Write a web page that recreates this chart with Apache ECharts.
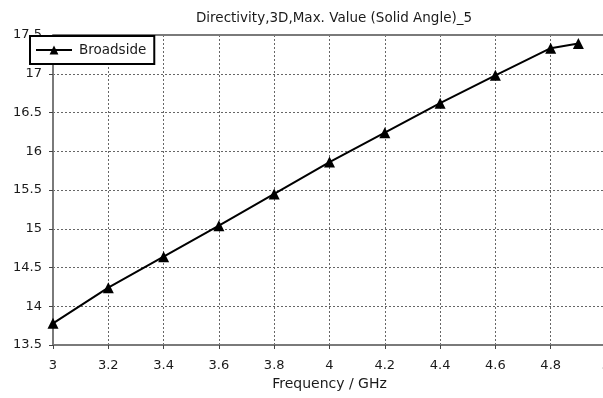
<!DOCTYPE html>
<html>
<head>
<meta charset="utf-8">
<script src="https://cdn.jsdelivr.net/npm/echarts@6/dist/echarts.min.js"></script>
<style>
  html, body { margin: 0; padding: 0; background: #fff; }
  #chart { width: 603px; height: 398px; }
</style>
</head>
<body>
<div id="chart"></div>
<script>
// Directivity vs frequency, broadside
const frequencies = [3.0, 3.2, 3.4, 3.6, 3.8, 4.0, 4.2, 4.4, 4.6, 4.8, 4.9];
const broadside = [13.78, 14.24, 14.64, 15.04, 15.45, 15.86, 16.24, 16.62, 16.98, 17.33, 17.39];
const xTicks = [3, 3.2, 3.4, 3.6, 3.8, 4, 4.2, 4.4, 4.6, 4.8, 5];
const yTicks = [13.5, 14, 14.5, 15, 15.5, 16, 16.5, 17, 17.5];

const FONT = 'DejaVu Sans';
const TEXT = '#1a1a1a';

const chart = echarts.init(document.getElementById('chart'), null, { renderer: 'canvas' });

chart.setOption({
  animation: false,
  backgroundColor: '#ffffff',
  title: {
    text: 'Directivity,3D,Max. Value (Solid Angle)_5',
    left: 329,
    textAlign: 'center',
    top: 6,
    textStyle: { fontFamily: FONT, fontSize: 13.5, fontWeight: 'normal', color: TEXT }
  },
  legend: {
    left: 30,
    top: 36,
    padding: [7, 8, 7, 5],
    itemWidth: 36,
    itemHeight: 11,
    itemGap: 0,
    borderColor: '#000',
    borderWidth: 2,
    backgroundColor: '#fff',
    textStyle: { fontFamily: FONT, fontSize: 13.5, color: TEXT, padding: [0, 0, 0, 2] },
    data: ['Broadside']
  },
  grid: { left: 53, right: -3, top: 35, bottom: 53, outerBoundsMode: 'none' },
  xAxis: {
    type: 'value',
    min: xTicks[0],
    max: xTicks[xTicks.length - 1],
    interval: 0.2,
    name: 'Frequency / GHz',
    nameLocation: 'middle',
    nameGap: 32,
    nameTextStyle: { fontFamily: FONT, fontSize: 14, color: TEXT },
    axisLine: { lineStyle: { color: '#7a7a7a', width: 2 } },
    axisTick: { show: true, length: 4, lineStyle: { color: '#444' } },
    axisLabel: {
      fontFamily: FONT, fontSize: 13, color: TEXT, margin: 14,
      formatter: v => String(+v.toFixed(1))
    },
    splitLine: { show: true, lineStyle: { color: '#666', type: [2, 2], width: 1 } }
  },
  yAxis: {
    type: 'value',
    min: yTicks[0],
    max: yTicks[yTicks.length - 1],
    interval: 0.5,
    axisLine: { show: true, lineStyle: { color: '#7a7a7a', width: 2 } },
    axisTick: { show: true, length: 4, lineStyle: { color: '#444' } },
    axisLabel: {
      fontFamily: FONT, fontSize: 13, color: TEXT, margin: 11,
      formatter: v => String(+v.toFixed(1))
    },
    splitLine: { show: true, lineStyle: { color: '#666', type: [2, 2], width: 1 } }
  },
  graphic: [{
    type: 'line',
    shape: { x1: 53, y1: 35, x2: 603, y2: 35 },
    style: { stroke: '#7a7a7a', lineWidth: 2 },
    z: 3
  }],
  series: [{
    name: 'Broadside',
    type: 'line',
    data: frequencies.map((f, i) => [f, broadside[i]]),
    color: '#000',
    lineStyle: { color: '#000', width: 2 },
    symbol: 'triangle',
    symbolSize: 11,
    itemStyle: { color: '#000', borderWidth: 0 },
    showSymbol: true,
    clip: false
  }]
});
</script>
</body>
</html>
